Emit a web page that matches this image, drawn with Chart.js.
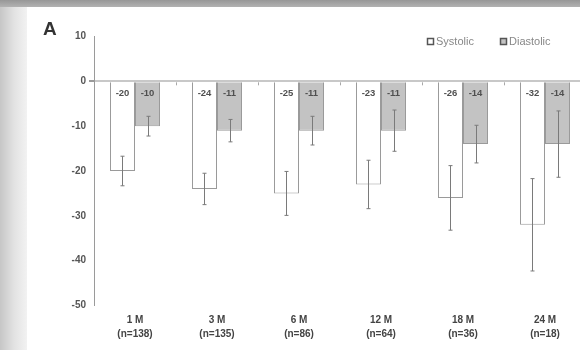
<!DOCTYPE html>
<html>
<head>
<meta charset="utf-8">
<script src="https://cdn.jsdelivr.net/npm/chart.js@4/dist/chart.umd.min.js"></script>
<style>
  html, body { margin: 0; padding: 0; width: 580px; height: 350px; overflow: hidden; }
  body { position: relative; background: linear-gradient(to right, #c6c6c6 0px, #e2e2e2 14px, #f2f2f2 27px); }
  #band { position: absolute; left: 0; top: 0; width: 580px; height: 7px; background: linear-gradient(to bottom, #979797, #b2b2b2); }
  #card { position: absolute; left: 27px; top: 7px; width: 559px; height: 343px; background: #fff; }
</style>
</head>
<body>
<div id="band"></div>
<div id="card"><canvas id="c"></canvas></div>
<script>
// Follow-up visits (months, with patient count)
const categories = [['1 M', '(n=138)'], ['3 M', '(n=135)'], ['6 M', '(n=86)'], ['12 M', '(n=64)'], ['18 M', '(n=36)'], ['24 M', '(n=18)']];
// Mean change in blood pressure (mmHg)
const systolic = [-20, -24, -25, -23, -26, -32];
const diastolic = [-10, -11, -11, -11, -14, -14];
// Half-length of the error bars
const systolicErr = [3.3, 3.5, 4.9, 5.4, 7.2, 10.3];
const diastolicErr = [2.2, 2.5, 3.2, 4.6, 4.2, 7.4];
// Value axis
const yMin = -50;
const yMax = 10;
const yStep = 10;
const seriesNames = ['Systolic', 'Diastolic'];

const errors = [systolicErr, diastolicErr];
const FONT = '"Liberation Sans", Arial, sans-serif';

// Whiskers for each bar
const errorBarPlugin = {
  id: 'errorBars',
  afterDatasetsDraw(chart) {
    const ctx = chart.ctx;
    const y = chart.scales.y;
    ctx.save();
    ctx.strokeStyle = '#7a7a7a';
    ctx.lineWidth = 1;
    chart.data.datasets.forEach((ds, i) => {
      const meta = chart.getDatasetMeta(i);
      meta.data.forEach((bar, j) => {
        const v = ds.data[j];
        const e = errors[i][j];
        const x = Math.round(bar.x) + 0.5;
        const yTop = y.getPixelForValue(v + e);
        const yBot = y.getPixelForValue(v - e);
        ctx.beginPath();
        ctx.moveTo(x, yTop); ctx.lineTo(x, yBot);
        ctx.moveTo(x - 2, yTop); ctx.lineTo(x + 2, yTop);
        ctx.moveTo(x - 2, yBot); ctx.lineTo(x + 2, yBot);
        ctx.stroke();
      });
    });
    ctx.restore();
  }
};

// Value printed just under the zero line inside each bar
const valueLabelPlugin = {
  id: 'valueLabels',
  afterDatasetsDraw(chart) {
    const ctx = chart.ctx;
    ctx.save();
    ctx.font = 'bold 9.5px ' + FONT;
    ctx.fillStyle = '#505050';
    ctx.textAlign = 'center';
    ctx.textBaseline = 'middle';
    chart.data.datasets.forEach((ds, i) => {
      chart.getDatasetMeta(i).data.forEach((bar, j) => {
        ctx.fillText(String(ds.data[j]), bar.x, bar.base + 11);
      });
    });
    ctx.restore();
  }
};

// Small ticks on the zero line between groups, panel letter and legend
const decorPlugin = {
  id: 'decor',
  afterDraw(chart) {
    const ctx = chart.ctx;
    const xs = chart.scales.x;
    const ys = chart.scales.y;
    const y0 = ys.getPixelForValue(0);
    ctx.save();
    ctx.strokeStyle = '#a8a8a8';
    ctx.lineWidth = 1;
    for (let j = 1; j < categories.length; j++) {
      const bx = Math.round((xs.getPixelForValue(j - 1) + xs.getPixelForValue(j)) / 2) + 0.5;
      ctx.beginPath();
      ctx.moveTo(bx, y0 + 1);
      ctx.lineTo(bx, y0 + 4);
      ctx.stroke();
    }

    ctx.fillStyle = '#333';
    ctx.font = 'bold 19px ' + FONT;
    ctx.textAlign = 'left';
    ctx.textBaseline = 'middle';
    ctx.fillText('A', 16, 23);

    // legend
    ctx.font = '11px ' + FONT;
    ctx.textBaseline = 'middle';
    const lx = [400, 473];
    chart.data.datasets.forEach((ds, i) => {
      ctx.fillStyle = ds.backgroundColor;
      ctx.strokeStyle = '#555';
      ctx.lineWidth = 1.5;
      ctx.fillRect(lx[i] + 0.5, 31.5, 6, 6);
      ctx.strokeRect(lx[i] + 0.5, 31.5, 6, 6);
      ctx.fillStyle = '#888';
      ctx.fillText(ds.label, lx[i] + 9, 34.5);
    });
    ctx.restore();
  }
};

new Chart(document.getElementById('c'), {
  type: 'bar',
  data: {
    labels: categories,
    datasets: [
      { label: seriesNames[0], data: systolic, backgroundColor: '#ffffff', borderColor: '#9a9a9a', borderWidth: 1 },
      { label: seriesNames[1], data: diastolic, backgroundColor: '#c3c3c3', borderColor: '#9a9a9a', borderWidth: 1 }
    ]
  },
  options: {
    responsive: true,
    maintainAspectRatio: false,
    animation: false,
    devicePixelRatio: 1,
    layout: { padding: { top: 29.5, left: 0, right: 0, bottom: 0 } },
    datasets: { bar: { categoryPercentage: 0.61, barPercentage: 1.0 } },
    plugins: { legend: { display: false }, tooltip: { enabled: false }, title: { display: false } },
    scales: {
      x: {
        grid: { display: false, drawTicks: false },
        border: { display: false },
        ticks: { color: '#444', font: { family: FONT, size: 10, weight: 'bold', lineHeight: 1.4 }, padding: 8, maxRotation: 0, autoSkip: false },
        afterFit(scale) { scale.height = 44.5; }
      },
      y: {
        min: yMin,
        max: yMax,
        ticks: { stepSize: yStep, color: '#555', font: { family: FONT, size: 10, weight: 'bold' }, padding: 3 },
        grid: {
          drawOnChartArea: true,
          color: (c) => (c.tick && c.tick.value === 0 ? '#c8c8c8' : 'rgba(0,0,0,0)'),
          lineWidth: (c) => (c.tick && c.tick.value === 0 ? 2 : 0),
          tickColor: '#9a9a9a',
          tickLength: 5
        },
        border: { display: true, color: '#9a9a9a', width: 1 },
        afterFit(scale) { scale.width = 67; }
      }
    }
  },
  plugins: [errorBarPlugin, valueLabelPlugin, decorPlugin]
});
</script>
</body>
</html>
